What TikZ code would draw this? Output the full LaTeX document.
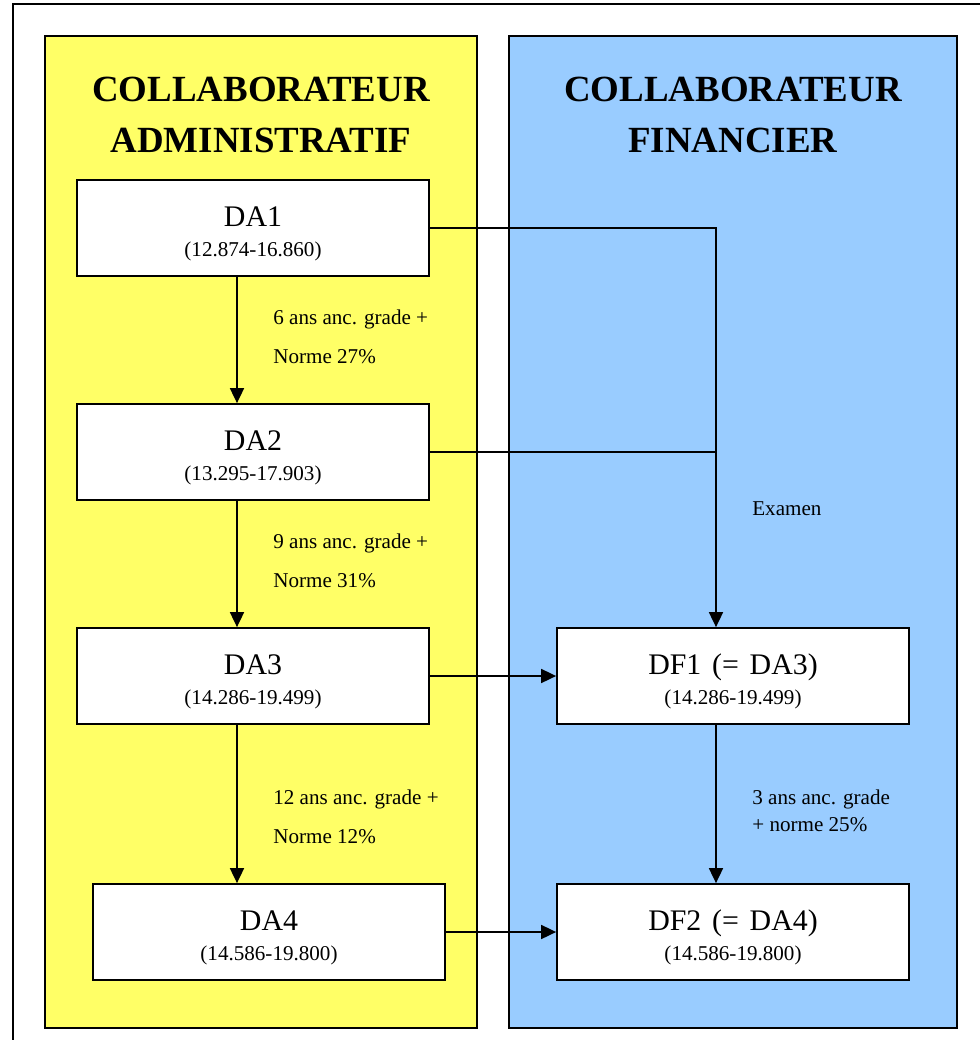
\documentclass[tikz,border=0pt]{standalone}
\usepackage{fontspec}
\setmainfont{Liberation Serif}
\usetikzlibrary{arrows.meta}
\definecolor{adminyellow}{RGB}{255,255,102}
\definecolor{finblue}{RGB}{153,204,255}
\newcommand{\gradename}[1]{{\fontsize{17}{17}\selectfont\spaceskip=0.36em\rule{0pt}{17.8pt}#1}}
\tikzset{
  panel/.style={draw,line width=0.35mm},
  gradebox/.style={draw,fill=white,line width=0.35mm,minimum width=70.4mm,minimum height=19.2mm,
    align=center,inner sep=0pt,font=\fontsize{12}{17}\selectfont},
  paneltitle/.style={align=center,inner sep=0pt,font=\fontsize{21}{29}\selectfont\bfseries},
  steplabel/.style={anchor=north west,align=left,inner sep=0pt,font=\fontsize{12}{22}\selectfont},
  arr/.style={line width=0.35mm,-{Triangle[length=3mm,width=2.8mm]}}
}
\begin{document}
\begin{tikzpicture}[x=0.2mm,y=-0.2mm]
        \useasboundingbox (0,0) rectangle (980,1040);
        % frame and the two columns
        \draw[line width=0.35mm] (980,4) -| (13,1040);
        \filldraw[panel,fill=adminyellow] (45,36) rectangle (477,1028);
        \filldraw[panel,fill=finblue] (509,36) rectangle (957,1028);
        \node[paneltitle] (titleadmin) at (261,115) {COLLABORATEUR\\ADMINISTRATIF};
        \node[paneltitle] (titlefin) at (733,115) {COLLABORATEUR\\FINANCIER};

        % administrative grades
        \node[gradebox] (da1) at (253,228) {\gradename{DA1}\\(12.874-16.860)};
        \node[gradebox] (da2) at (253,452) {\gradename{DA2}\\(13.295-17.903)};
        \node[gradebox] (da3) at (253,676) {\gradename{DA3}\\(14.286-19.499)};
        \node[gradebox] (da4) at (269,932) {\gradename{DA4}\\(14.586-19.800)};

        % financial grades
        \node[gradebox] (df1) at (733,676) {\gradename{DF1 (= DA3)}\\(14.286-19.499)};
        \node[gradebox] (df2) at (733,932) {\gradename{DF2 (= DA4)}\\(14.586-19.800)};

        % promotions
        \coordinate (colA) at (237,0);
        \coordinate (colF) at (716,0);
        \draw[arr] (da1.south -| colA) -- (da2.north -| colA);
        \draw[arr] (da2.south -| colA) -- (da3.north -| colA);
        \draw[arr] (da3.south -| colA) -- (da4.north -| colA);
        \draw[arr] (df1.south -| colF) -- (df2.north -| colF);
        \node[steplabel] (cond12) at (273,309.5) {6 ans anc. grade +\\Norme 27\%};
        \node[steplabel] (cond23) at (273,533.5) {9 ans anc. grade +\\Norme 31\%};
        \node[steplabel] (cond34) at (273,789.5) {12 ans anc. grade +\\Norme 12\%};
        \node[steplabel,font=\fontsize{12}{15}\selectfont] (condf12) at (752,790) {3 ans anc. grade\\+ norme 25\%};

        % moves to the financial column
        \draw[arr] (da1.east) -| (df1.north -| colF);
        \draw[line width=0.35mm] (da2.east) -- (da2.east -| colF);
        \node[steplabel,anchor=base west] (examen) at (752,515) {Examen};
        \draw[arr] (da3.east) -- (df1.west);
        \draw[arr] (da4.east) -- (df2.west);
\end{tikzpicture}
\end{document}
